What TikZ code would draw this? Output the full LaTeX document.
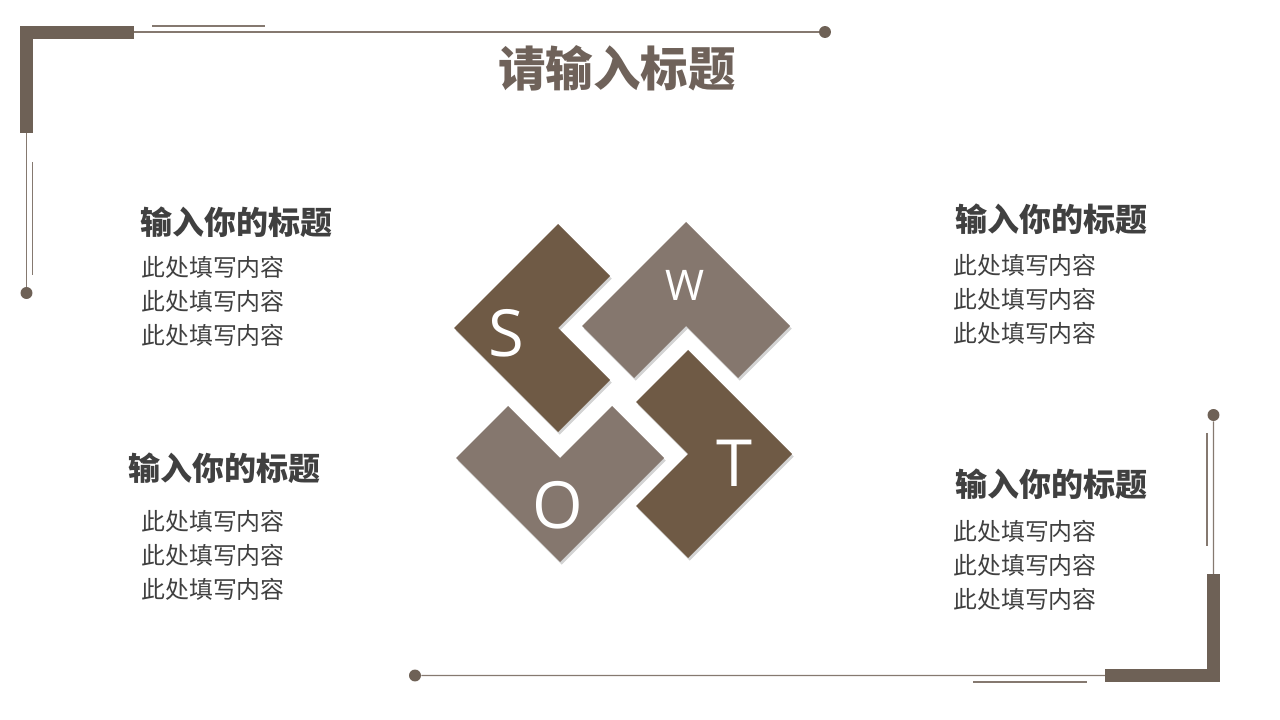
\documentclass[tikz,border=0pt]{standalone}
\usepackage{fontspec}
\usepackage{tikz}
\usetikzlibrary{shadows}
\setmainfont{Open Sans}
\newfontfamily\cjk{Noto Sans CJK SC}
\definecolor{darkbrown}{HTML}{6F5A45}
\definecolor{lightbrown}{HTML}{85776E}
\definecolor{framebrown}{HTML}{6E6156}
\definecolor{ruleline}{HTML}{857970}
\definecolor{titlebrown}{HTML}{6F625A}
\definecolor{textgray}{HTML}{404040}

\begin{document}
\begin{tikzpicture}[scale=0.2,
    dot/.style={circle, fill=framebrown, inner sep=0pt, minimum size=6.8pt},
    thinrule/.style={draw=ruleline, line width=0.6pt},
    piece/.style={drop shadow={shadow xshift=1pt, shadow yshift=-1.5pt, opacity=0.35}},
    letter/.style={text=white, inner sep=0pt, font=\fontsize{37}{37}\selectfont},
    head/.style={anchor=west, inner sep=0pt, text=textgray, font=\cjk\bfseries\fontsize{18.2}{22}\selectfont},
    body/.style={anchor=west, inner sep=0pt, align=left, text=textgray, font=\cjk\fontsize{13.6}{19.3}\selectfont}]
            \useasboundingbox (0,0) rectangle (128,-72);
            % frame, top left
            \fill [framebrown] (2.0,-2.6) rectangle (3.3,-13.3);
            \fill [framebrown] (2.0,-2.6) rectangle (13.4,-3.9);
            \coordinate (tlBarH) at (13.4,-3.2);
            \coordinate (tlBarV) at (2.65,-13.3);
            \node [dot] (tlDotH) at (82.5,-3.2) {};
            \node [dot] (tlDotV) at (2.65,-29.3) {};
            \draw [thinrule] (tlBarH) -- (tlDotH);
            \draw [thinrule] (tlBarV) -- (tlDotV);
            \draw [thinrule] (15.2,-2.6) -- (26.5,-2.6);
            \draw [thinrule] (3.27,-16.2) -- (3.27,-27.5);
            % frame, bottom right
            \fill [framebrown] (120.7,-57.4) rectangle (122.0,-68.2);
            \fill [framebrown] (110.5,-66.9) rectangle (122.0,-68.2);
            \coordinate (brBarH) at (110.5,-67.55);
            \coordinate (brBarV) at (121.35,-57.4);
            \node [dot] (brDotH) at (41.5,-67.55) {};
            \node [dot] (brDotV) at (121.35,-41.5) {};
            \draw [thinrule] (brDotH) -- (brBarH);
            \draw [thinrule] (brDotV) -- (brBarV);
            \draw [thinrule] (97.3,-68.2) -- (108.7,-68.2);
            \draw [thinrule] (120.7,-43.3) -- (120.7,-54.6);
            % title
            \node [text=titlebrown, font=\cjk\bfseries\fontsize{27}{30}\selectfont] (title) at (61.7,-6.8) {请输入标题};
            % swot pieces
            \begin{scope}[shift={(55.8,-32.8)}, scale=5.2]
                \fill [darkbrown, piece] (-2,0) -- (0,2) -- (1,1) -- (0,0) -- (1,-1) -- (0,-2) -- cycle;
            \end{scope}
            \begin{scope}[shift={(68.6,-32.6)}, scale=5.2]
                \fill [lightbrown, piece] (-2,0) -- (0,2) -- (2,0) -- (1,-1) -- (0,0) -- (-1,-1) -- cycle;
            \end{scope}
            \begin{scope}[shift={(56.0,-45.8)}, scale=5.2]
                \fill [lightbrown, piece] (-2,0) -- (-1,1) -- (0,0) -- (1,1) -- (2,0) -- (0,-2) -- cycle;
            \end{scope}
            \begin{scope}[shift={(68.8,-45.4)}, scale=5.2]
                \fill [darkbrown, piece] (0,2) -- (2,0) -- (0,-2) -- (-1,-1) -- (0,0) -- (-1,1) -- cycle;
            \end{scope}
            \node [letter] (S) at (50.6,-33.3) {S};
            \node [letter, font=\fontsize{24}{24}\selectfont] (W) at (68.5,-28.5) {W};
            \node [letter] (O) at (55.8,-50.5) {O};
            \node [letter] (T) at (73.4,-46.3) {T};
            % text blocks
            \node [head] (tlHead) at (14.0,-22.2) {输入你的标题};
            \node [body] (tlBody) at (14.1,-30.1) {此处填写内容\\此处填写内容\\此处填写内容};
            \node [head] (blHead) at (12.8,-46.8) {输入你的标题};
            \node [body] (blBody) at (14.1,-55.5) {此处填写内容\\此处填写内容\\此处填写内容};
            \node [head] (trHead) at (95.5,-21.9) {输入你的标题};
            \node [body] (trBody) at (95.3,-29.9) {此处填写内容\\此处填写内容\\此处填写内容};
            \node [head] (brHead) at (95.5,-48.4) {输入你的标题};
            \node [body] (brBody) at (95.3,-56.5) {此处填写内容\\此处填写内容\\此处填写内容};
            \end{tikzpicture}
\end{document}
